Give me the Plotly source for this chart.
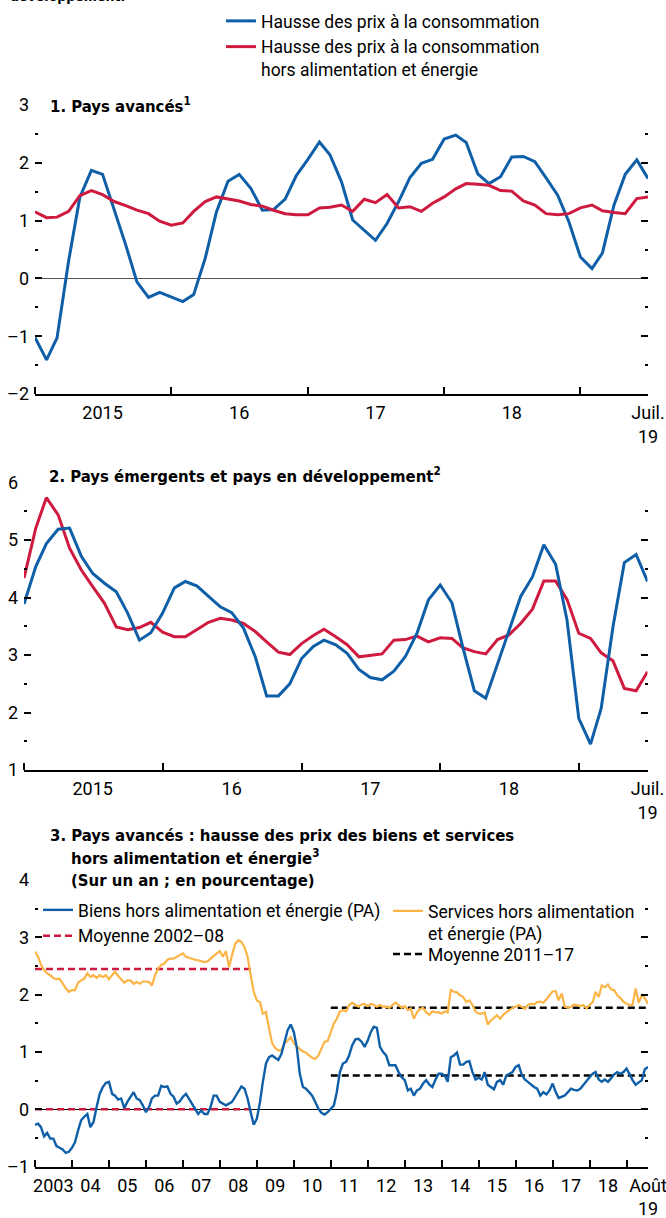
import pandas as pd
import plotly.graph_objects as go

# ---------------- data ----------------
months_12 = pd.date_range("2015-01-01", "2019-07-01", freq="MS")
months_3 = pd.date_range("2003-01-01", "2019-08-01", freq="MS")

ae_headline = [-1.02, -1.41, -1.03, 0.30, 1.40, 1.87, 1.80, 1.21, 0.58, -0.06,
               -0.33, -0.24, -0.32, -0.40, -0.28, 0.35, 1.15, 1.68, 1.80, 1.56,
               1.18, 1.19, 1.37, 1.78, 2.06, 2.36, 2.14, 1.67, 1.01, 0.84,
               0.66, 0.95, 1.33, 1.74, 1.99, 2.06, 2.41, 2.48, 2.35, 1.81,
               1.64, 1.76, 2.10, 2.11, 2.02, 1.74, 1.44, 0.98, 0.37, 0.17,
               0.44, 1.27, 1.80, 2.05, 1.73]
ae_core = [1.15, 1.05, 1.06, 1.16, 1.43, 1.52, 1.45, 1.33, 1.26, 1.18,
           1.12, 0.99, 0.92, 0.96, 1.16, 1.33, 1.41, 1.37, 1.34, 1.28,
           1.25, 1.18, 1.12, 1.10, 1.10, 1.22, 1.23, 1.27, 1.16, 1.37,
           1.31, 1.45, 1.22, 1.24, 1.16, 1.30, 1.41, 1.55, 1.64, 1.63,
           1.61, 1.52, 1.51, 1.34, 1.27, 1.12, 1.10, 1.12, 1.22, 1.27,
           1.17, 1.14, 1.12, 1.38, 1.41]
em_headline = [3.89, 4.54, 4.94, 5.19, 5.21, 4.72, 4.42, 4.25, 4.10, 3.73,
               3.26, 3.39, 3.73, 4.17, 4.28, 4.20, 4.02, 3.84, 3.74, 3.47,
               2.97, 2.29, 2.29, 2.50, 2.94, 3.15, 3.26, 3.18, 3.03, 2.75,
               2.61, 2.57, 2.72, 2.97, 3.38, 3.96, 4.22, 3.91, 3.15, 2.38,
               2.25, 2.83, 3.42, 4.02, 4.36, 4.92, 4.58, 3.61, 1.90, 1.45,
               2.07, 3.49, 4.61, 4.75, 4.28]
em_core = [4.34, 5.21, 5.74, 5.44, 4.86, 4.48, 4.19, 3.90, 3.49, 3.44,
           3.48, 3.57, 3.40, 3.32, 3.32, 3.45, 3.57, 3.64, 3.61, 3.55,
           3.41, 3.23, 3.05, 3.01, 3.20, 3.34, 3.45, 3.32, 3.18, 2.97,
           3.00, 3.02, 3.26, 3.27, 3.33, 3.23, 3.30, 3.29, 3.13, 3.06,
           3.02, 3.27, 3.35, 3.55, 3.80, 4.29, 4.29, 3.97, 3.38, 3.29,
           3.04, 2.90, 2.42, 2.38, 2.71]

goods = [
    -0.27, -0.25, -0.31, -0.47, -0.41, -0.51, -0.51, -0.64, -0.67, -0.70, -0.76, -0.74,
    -0.67, -0.57, -0.37, -0.19, -0.13, -0.08, -0.31, -0.22, 0.04, 0.27, 0.39, 0.46,
    0.48, 0.27, 0.24, 0.17, 0.19, 0.02, 0.13, 0.22, 0.30, 0.19, 0.16, 0.07,
    -0.05, 0.04, 0.19, 0.24, 0.24, 0.41, 0.39, 0.40, 0.27, 0.22, 0.10, 0.14,
    0.22, 0.27, 0.19, 0.10, 0.02, -0.08, -0.02, -0.08, -0.08, 0.04, 0.24, 0.24,
    0.13, 0.10, 0.07, 0.10, 0.13, 0.22, 0.30, 0.40, 0.36, 0.19, -0.05, -0.27,
    -0.16, 0.13, 0.48, 0.80, 0.91, 0.94, 0.90, 0.86, 0.97, 1.20, 1.38, 1.48,
    1.35, 1.06, 0.62, 0.39, 0.36, 0.30, 0.24, 0.13, 0.01, -0.06, -0.09, -0.05,
    0.01, 0.07, 0.30, 0.65, 0.80, 0.83, 0.94, 1.12, 1.22, 1.23, 1.18, 1.09,
    1.20, 1.35, 1.44, 1.42, 1.09, 1.00, 0.94, 0.77, 0.77, 0.77, 0.65, 0.56,
    0.51, 0.33, 0.36, 0.24, 0.33, 0.36, 0.45, 0.51, 0.43, 0.39, 0.52, 0.62,
    0.62, 0.59, 0.48, 0.91, 0.94, 0.99, 0.78, 0.78, 0.83, 0.84, 0.65, 0.52,
    0.55, 0.52, 0.65, 0.43, 0.39, 0.35, 0.48, 0.51, 0.43, 0.59, 0.62, 0.65,
    0.74, 0.77, 0.61, 0.52, 0.48, 0.43, 0.39, 0.36, 0.24, 0.30, 0.26, 0.33,
    0.45, 0.30, 0.20, 0.22, 0.24, 0.30, 0.36, 0.34, 0.33, 0.36, 0.43, 0.51,
    0.56, 0.62, 0.65, 0.52, 0.48, 0.52, 0.48, 0.54, 0.61, 0.65, 0.62, 0.65,
    0.71, 0.61, 0.51, 0.43, 0.47, 0.51, 0.70, 0.74]
services = [
    2.75, 2.66, 2.52, 2.43, 2.37, 2.34, 2.29, 2.27, 2.28, 2.19, 2.11, 2.05,
    2.08, 2.08, 2.21, 2.25, 2.28, 2.37, 2.31, 2.34, 2.29, 2.34, 2.31, 2.34,
    2.27, 2.34, 2.40, 2.33, 2.27, 2.21, 2.25, 2.25, 2.19, 2.22, 2.19, 2.23,
    2.23, 2.22, 2.16, 2.34, 2.45, 2.52, 2.54, 2.61, 2.63, 2.63, 2.66, 2.69,
    2.72, 2.66, 2.64, 2.63, 2.61, 2.60, 2.58, 2.57, 2.58, 2.63, 2.68, 2.72,
    2.76, 2.66, 2.76, 2.48, 2.69, 2.89, 2.95, 2.92, 2.83, 2.66, 2.34, 2.05,
    1.90, 1.87, 1.67, 1.70, 1.41, 1.15, 1.07, 1.03, 1.03, 1.15, 1.20, 1.26,
    1.15, 1.09, 1.05, 1.01, 0.99, 0.94, 0.90, 0.88, 0.94, 1.06, 1.18, 1.19,
    1.35, 1.50, 1.58, 1.70, 1.73, 1.71, 1.82, 1.86, 1.82, 1.79, 1.83, 1.84,
    1.80, 1.84, 1.82, 1.79, 1.82, 1.79, 1.79, 1.77, 1.82, 1.86, 1.82, 1.77,
    1.80, 1.73, 1.76, 1.58, 1.69, 1.75, 1.77, 1.69, 1.65, 1.71, 1.69, 1.69,
    1.67, 1.71, 1.69, 2.08, 2.05, 2.04, 1.99, 1.96, 1.87, 1.90, 1.82, 1.71,
    1.67, 1.67, 1.69, 1.48, 1.55, 1.59, 1.64, 1.58, 1.65, 1.69, 1.73, 1.77,
    1.79, 1.82, 1.79, 1.75, 1.82, 1.84, 1.83, 1.87, 1.88, 1.86, 1.92, 1.99,
    2.06, 2.06, 1.90, 2.02, 1.79, 1.77, 1.79, 1.83, 1.82, 1.80, 1.82, 1.76,
    1.82, 1.87, 2.05, 1.96, 2.16, 2.13, 2.18, 2.09, 2.08, 1.99, 1.94, 1.88,
    1.84, 1.82, 1.82, 2.11, 1.86, 1.99, 1.94, 1.84]

mean_0208_period = ["2003-01-01", "2008-12-01"]
mean_0208_goods = 0.0
mean_0208_services = 2.45
mean_1117_period = ["2011-01-01", "2019-08-01"]
mean_1117_goods = 0.59
mean_1117_services = 1.77

labels_12 = ["2015", "16", "17", "18", "Juil.<br>19"]
labels_12_pos = ["2015-07-01", "2016-07-01", "2017-07-01", "2018-07-01", "2019-07-01"]
labels_3 = ["2003", "04", "05", "06", "07", "08", "09", "10", "11", "12",
            "13", "14", "15", "16", "17", "18", "Août<br>19"]
labels_3_pos = [f"{y}-07-01" for y in range(2003, 2019)] + ["2019-08-01"]

# ---------------- style ----------------
FONT = "Roboto, Liberation Sans, Arial, sans-serif"
BFONT = "DejaVu Sans Condensed, DejaVu Sans, Roboto, sans-serif"
BLUE = "#0f5fa8"
RED = "#cf1a3f"
YELLOW = "#fbb446"
W, H = 666, 1218


def px_x(p):
    return p / W


def px_y(p):
    return 1 - p / H


fig = go.Figure()

# Panel 1
fig.add_trace(go.Scatter(x=months_12, y=ae_headline, mode="lines",
                         line=dict(color=BLUE, width=3),
                         name="Hausse des prix à la consommation",
                         xaxis="x", yaxis="y", legend="legend"))
fig.add_trace(go.Scatter(x=months_12, y=ae_core, mode="lines",
                         line=dict(color=RED, width=3),
                         name="Hausse des prix à la consommation<br>hors alimentation et énergie",
                         xaxis="x", yaxis="y", legend="legend"))
# Panel 2
fig.add_trace(go.Scatter(x=months_12, y=em_core, mode="lines",
                         line=dict(color=RED, width=3), showlegend=False,
                         xaxis="x2", yaxis="y2"))
fig.add_trace(go.Scatter(x=months_12, y=em_headline, mode="lines",
                         line=dict(color=BLUE, width=3), showlegend=False,
                         xaxis="x2", yaxis="y2"))
# Panel 3
fig.add_trace(go.Scatter(x=mean_0208_period, y=[mean_0208_services] * 2, mode="lines",
                         line=dict(color=RED, width=2.5, dash="7px,4px"),
                         showlegend=False, xaxis="x3", yaxis="y3"))
fig.add_trace(go.Scatter(x=mean_1117_period, y=[mean_1117_services] * 2, mode="lines",
                         line=dict(color="black", width=2.5, dash="7px,4px"),
                         showlegend=False, xaxis="x3", yaxis="y3"))
fig.add_trace(go.Scatter(x=months_3, y=services, mode="lines",
                         line=dict(color=YELLOW, width=2.2),
                         name="Services hors alimentation<br>et énergie (PA)",
                         xaxis="x3", yaxis="y3", legend="legend3"))
fig.add_trace(go.Scatter(x=mean_0208_period, y=[mean_0208_goods] * 2, mode="lines",
                         line=dict(color=RED, width=2.5, dash="7px,4px"),
                         name="Moyenne 2002–08",
                         xaxis="x3", yaxis="y3", legend="legend2"))
fig.add_trace(go.Scatter(x=mean_1117_period, y=[mean_1117_goods] * 2, mode="lines",
                         line=dict(color="black", width=2.5, dash="7px,4px"),
                         name="Moyenne 2011–17",
                         xaxis="x3", yaxis="y3", legend="legend4"))
fig.add_trace(go.Scatter(x=months_3, y=goods, mode="lines",
                         line=dict(color=BLUE, width=2.4),
                         name="Biens hors alimentation et énergie (PA)",
                         xaxis="x3", yaxis="y3", legend="legend2"))

tickfont = dict(family=FONT, size=18, color="black")
legfont = dict(family=FONT, size=17.5, color="black")


def xaxis(domain, rng, pos, labels, anchor, start):
    return dict(domain=domain, range=rng, type="date", anchor=anchor,
                automargin=False,
                showline=True, linecolor="black", linewidth=1.5,
                showgrid=False, zeroline=False,
                tickmode="array", tickvals=pos, ticktext=labels,
                ticks="", ticklabelstandoff=2, tickfont=tickfont,
                ticklabeloverflow="allow",
                minor=dict(ticks="inside", ticklen=7, tickwidth=1.5, tickcolor="black",
                           tickmode="linear", tick0=start, dtick="M12", showgrid=False))


def yaxis(domain, lo, hi, anchor, zl, zlcolor="black"):
    vals = list(range(lo, hi + 1))
    txt = [str(v).replace("-", "–") for v in vals]
    return dict(domain=domain, range=[lo, hi], anchor=anchor,
                automargin=False,
                showline=False, showgrid=False,
                zeroline=zl, zerolinecolor=zlcolor, zerolinewidth=1.2,
                tickmode="array", tickvals=vals, ticktext=txt,
                ticks="inside", ticklen=7, tickwidth=1.5, tickcolor="black",
                ticklabelstandoff=5,
                mirror="ticks", tickfont=tickfont,
                minor=dict(ticks="inside", ticklen=3, tickwidth=1.5, tickcolor="black",
                           tickmode="linear", tick0=0.5, dtick=1, showgrid=False))


def legend(x, y, reverse=False):
    d = dict(x=px_x(x), y=px_y(y), xanchor="left", yanchor="top",
             bgcolor="rgba(0,0,0,0)", valign="top", tracegroupgap=0,
             font=legfont)
    if reverse:
        d["traceorder"] = "reversed"
    return d


fig.update_layout(
    template="none",
    width=W, height=H, margin=dict(l=0, r=0, t=0, b=0, autoexpand=False),
    paper_bgcolor="white", plot_bgcolor="white",
    font=dict(family=FONT, size=17.5, color="black"),
    xaxis=xaxis([px_x(35), px_x(648)], ["2015-01-01", "2019-07-01"], labels_12_pos, labels_12, "y", "2015-01-01"),
    yaxis=yaxis([px_y(394), px_y(105)], -2, 3, "x", True, "#555555"),
    xaxis2=xaxis([px_x(24), px_x(647.5)], ["2015-01-01", "2019-07-01"], labels_12_pos, labels_12, "y2", "2015-01-01"),
    yaxis2=yaxis([px_y(770), px_y(482.7)], 1, 6, "x2", False),
    xaxis3=xaxis([px_x(35), px_x(648)], ["2003-01-01", "2019-08-01"], labels_3_pos, labels_3, "y3", "2003-01-01"),
    yaxis3=yaxis([px_y(1166.7), px_y(880)], -1, 4, "x3", True, "black"),
    legend=legend(221, 3),
    legend2=legend(38, 892, reverse=True),
    legend3=legend(388, 893),
    legend4=legend(388, 936),
    showlegend=True,
)

ann = dict(showarrow=False, xref="paper", yref="paper", xanchor="left",
           yanchor="middle", align="left")
bold = dict(family=BFONT, size=16.6, color="black", weight="bold")
fig.add_annotation(text="développement.", x=px_x(8), y=px_y(-4),
                   font=dict(family=BFONT, size=14, color="black", weight="bold"), **ann)
fig.add_annotation(text="1. Pays avancés<sup>1</sup>", x=px_x(48), y=px_y(105), font=bold, **ann)
fig.add_annotation(text="2. Pays émergents et pays en développement<sup>2</sup>",
                   x=px_x(47), y=px_y(475), font=bold, **ann)
fig.add_annotation(text="3. Pays avancés : hausse des prix des biens et services",
                   x=px_x(48), y=px_y(835), font=bold, **ann)
fig.add_annotation(text="hors alimentation et énergie<sup>3</sup>",
                   x=px_x(69), y=px_y(857), font=bold, **ann)
fig.add_annotation(text="(Sur un an ; en pourcentage)",
                   x=px_x(69), y=px_y(880), font=bold, **ann)

fig.write_html("out.html",
               config={"displayModeBar": False},
               post_script="document.body.style.margin='0px';"
                           "document.body.style.overflow='hidden';")
